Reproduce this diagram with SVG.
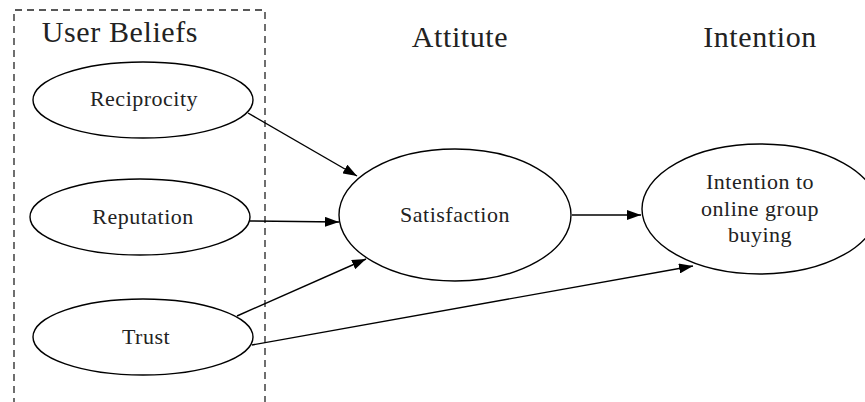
<svg xmlns="http://www.w3.org/2000/svg" width="865" height="402" viewBox="0 0 865 402">
<defs>
<marker id="ah" markerWidth="14" markerHeight="10" refX="14" refY="5" orient="auto" markerUnits="userSpaceOnUse">
<path d="M0,0 L14,5 L0,10 Z" fill="#000"/>
</marker>
<style>
.node ellipse{fill:#fff;stroke:#000;stroke-width:1.4}
.lbl{font-family:"Liberation Serif","DejaVu Serif",serif;font-size:22px;letter-spacing:0.5px;fill:#222;text-anchor:middle}
.title{font-family:"Liberation Serif","DejaVu Serif",serif;font-size:30px;letter-spacing:0.6px;fill:#222;text-anchor:middle}
.edge{stroke:#000;stroke-width:1.4;fill:none;marker-end:url(#ah)}
</style>
</defs>
<rect width="865" height="402" fill="#fff"/>
<g id="cluster">
<path d="M14,405 L14,10 L265,10 L265,405" fill="none" stroke="#222" stroke-width="1.3" stroke-dasharray="7,5"/>
<text class="title" x="120" y="42">User Beliefs</text>
</g>
<text class="title" x="460" y="47">Attitute</text>
<text class="title" x="760" y="47">Intention</text>
<g id="connectors">
<line class="edge" x1="248" y1="113" x2="357" y2="176"/>
<line class="edge" x1="250" y1="221" x2="339" y2="222"/>
<line class="edge" x1="237" y1="316" x2="366" y2="259"/>
<line class="edge" x1="252" y1="345" x2="693" y2="266"/>
<line class="edge" x1="572" y1="215" x2="641" y2="215"/>
</g>
<g id="reciprocity" class="node">
<ellipse cx="143" cy="100" rx="110" ry="38"/>
<text class="lbl" x="144" y="106">Reciprocity</text>
</g>
<g id="reputation" class="node">
<ellipse cx="140" cy="217" rx="110" ry="38"/>
<text class="lbl" x="143" y="224">Reputation</text>
</g>
<g id="trust" class="node">
<ellipse cx="143" cy="337" rx="110" ry="38"/>
<text class="lbl" x="146" y="344">Trust</text>
</g>
<g id="satisfaction" class="node">
<ellipse cx="455" cy="215" rx="116" ry="66"/>
<text class="lbl" x="455" y="222">Satisfaction</text>
</g>
<g id="intention" class="node">
<ellipse cx="760" cy="209" rx="118" ry="65"/>
<text class="lbl" x="760" y="189">Intention to</text>
<text class="lbl" x="760" y="216">online group</text>
<text class="lbl" x="760" y="242">buying</text>
</g>
</svg>
